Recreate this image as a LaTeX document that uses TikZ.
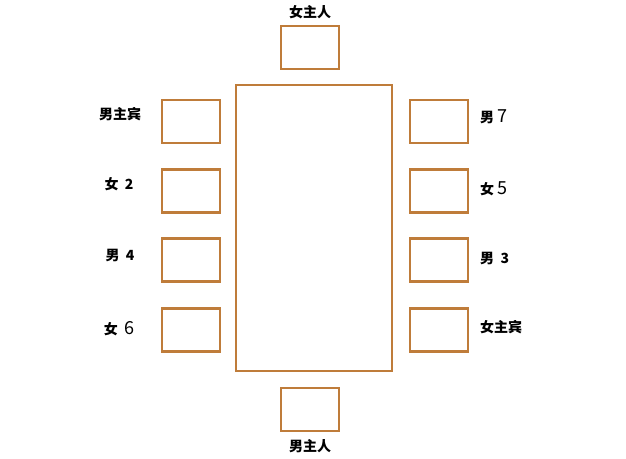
\documentclass[tikz,border=0pt]{standalone}
\usepackage{fontspec}
\newfontfamily\cjk{Noto Sans CJK SC}
\definecolor{seatbrown}{RGB}{191,124,58}
\tikzset{
  seat/.style={draw=seatbrown,line width=2.4pt,minimum width=58pt,minimum height=43pt,inner sep=0pt},
  guest/.style={font=\cjk\bfseries\fontsize{14}{16}\selectfont,inner sep=0pt}
}
\newcommand\thinnum[1]{{\mdseries\fontsize{18}{18}\selectfont #1}}
\begin{document}
\begin{tikzpicture}[x=1pt,y=-1pt]
                \useasboundingbox (0,0) rectangle (626,458);
                % table
                \node[seat,minimum width=156pt,minimum height=286pt] (table) at (314,228) {};
                % head seats
                \node[seat] (hostess) at (310,47.5) {};
                \node[seat] (host) at (310,409.5) {};
                \node[guest] (hostessname) at (310,12) {女主人};
                \node[guest] (hostname) at (310,446) {男主人};
                % side seats
                \foreach \i/\y in {1/121.5,2/191,3/260,4/330}{
                    \node[seat] (left\i) at (191,\y) {};
                    \node[seat] (right\i) at (439,\y) {};
                }
                % left names
                \node[guest] (leftname1) at (120,114) {男主宾};
                \node[guest] (leftname2) at (119,184) {女\ \ 2};
                \node[guest] (leftname3) at (120,255) {男\ \ 4};
                \node[guest] (leftname4) at (119,329) {女\ \ \thinnum{6}};
                % right names
                \node[guest,anchor=west] (rightname1) at (480,117) {男 \thinnum{7}};
                \node[guest,anchor=west] (rightname2) at (480,189) {女 \thinnum{5}};
                \node[guest,anchor=west] (rightname3) at (480,258) {男\ \ 3};
                \node[guest,anchor=west] (rightname4) at (480,327) {女主宾};
            \end{tikzpicture}
\end{document}
